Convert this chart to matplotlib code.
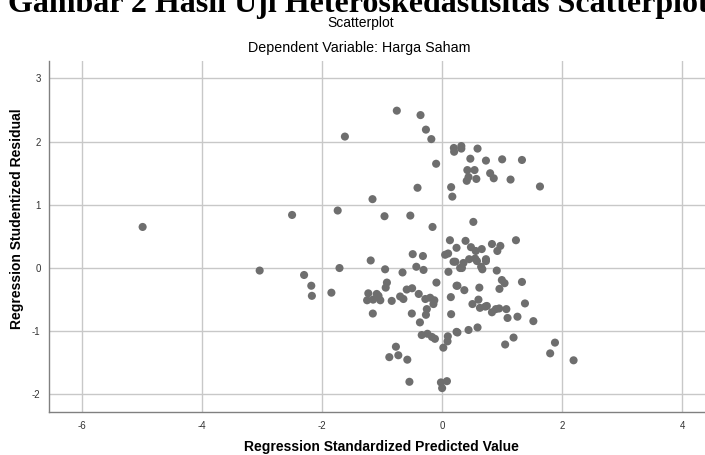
import matplotlib.pyplot as plt

# regression standardized predicted value vs studentized residual
pred = [-4.99, -3.04, -2.50, -2.30, -2.18, -2.17, -1.845, -1.74, -1.71, -1.62,
        -1.25, -1.23, -1.19, -1.16, -1.155, -1.15, -1.09, -1.06, -1.03, -0.96,
        -0.95, -0.94, -0.92, -0.88, -0.84, -0.77, -0.755, -0.73, -0.70, -0.66,
        -0.645, -0.59, -0.58, -0.545, -0.53, -0.505, -0.50, -0.49, -0.43, -0.41,
        -0.39, -0.37, -0.36, -0.34, -0.32, -0.31, -0.28, -0.27, -0.27, -0.255,
        -0.245, -0.20, -0.18, -0.17, -0.16, -0.145, -0.13, -0.12, -0.10, -0.095,
        -0.02, 0.00, 0.02, 0.05, 0.08, 0.09, 0.095, 0.10, 0.105, 0.13,
        0.145, 0.15, 0.15, 0.17, 0.19, 0.195, 0.20, 0.22, 0.24, 0.24,
        0.24, 0.255, 0.255, 0.30, 0.32, 0.32, 0.33, 0.355, 0.37, 0.39,
        0.41, 0.42, 0.44, 0.44, 0.45, 0.47, 0.48, 0.505, 0.52, 0.54,
        0.55, 0.56, 0.57, 0.58, 0.59, 0.59, 0.605, 0.62, 0.63, 0.65,
        0.66, 0.67, 0.72, 0.73, 0.73, 0.73, 0.745, 0.80, 0.83, 0.83,
        0.86, 0.895, 0.91, 0.92, 0.95, 0.955, 0.97, 0.995, 1.00, 1.04,
        1.05, 1.07, 1.09, 1.14, 1.19, 1.23, 1.255, 1.33, 1.33, 1.38,
        1.52, 1.63, 1.80, 1.88, 2.19]
resid = [0.65, -0.04, 0.84, -0.11, -0.28, -0.44, -0.39, 0.91, 0.00, 2.08,
         -0.51, -0.40, 0.12, 1.09, -0.72, -0.50, -0.41, -0.44, -0.51, 0.82,
         -0.02, -0.31, -0.23, -1.41, -0.52, -1.245, 2.49, -1.38, -0.45, -0.07,
         -0.49, -0.34, -1.45, -1.80, 0.83, -0.72, -0.32, 0.22, 0.02, 1.27,
         -0.41, -0.86, 2.42, -1.06, 0.19, -0.03, -0.49, 2.19, -0.74, -0.65,
         -1.04, -0.47, 2.04, -1.09, 0.65, -0.57, -0.51, -1.12, 1.65, -0.23,
         -1.81, -1.90, -1.26, 0.21, -1.79, -1.16, -1.08, 0.23, -0.06, 0.44,
         -0.46, -0.73, 1.28, 1.13, 0.10, 1.90, 1.84, 0.10, 0.32, -0.28,
         -1.01, -1.02, -0.28, 0.00, 1.93, 1.89, 0.00, 0.08, -0.35, 0.43,
         1.38, 1.55, 1.44, -0.98, 0.14, 1.73, 0.33, -0.57, 0.73, 1.55,
         0.15, 0.27, 1.41, 0.11, 1.89, -0.94, -0.50, -0.31, -0.63, 0.02,
         0.30, -0.02, -0.61, 1.70, 0.14, 0.11, -0.60, 1.50, 0.38, -0.70,
         1.42, -0.65, -0.04, 0.27, -0.64, -0.33, 0.35, -0.19, 1.72, -0.24,
         -1.21, -0.65, -0.79, 1.40, -1.10, 0.44, -0.77, 1.71, -0.22, -0.56,
         -0.84, 1.29, -1.35, -1.18, -1.46]

xticks = [-6, -4, -2, 0, 2, 4]
yticks = [-2, -1, 0, 1, 2, 3]

plt.rcParams['font.family'] = ['Liberation Sans', 'DejaVu Sans']

fig = plt.figure(figsize=(7.05, 4.55), dpi=100)
ax = fig.add_axes([0.0695, 0.0938, 0.945, 0.772])

ax.scatter(pred, resid, s=34, color='#6e6e6e', edgecolors='none', zorder=3)

ax.set_xlim(-6.55, 4.55)
ax.set_ylim(-2.283, 3.275)
ax.set_xticks(xticks)
ax.set_yticks(yticks)
ax.set_xticklabels([str(t) for t in xticks])
ax.set_yticklabels([str(t) for t in yticks])
ax.tick_params(length=0, labelsize=7, colors='#333333', pad=6)
ax.grid(True, color='#c8c8c8', linewidth=1.0)
ax.set_axisbelow(True)
for s in ['top', 'right']:
    ax.spines[s].set_visible(False)
for s in ['left', 'bottom']:
    ax.spines[s].set_color('#808080')
    ax.spines[s].set_linewidth(1.0)

# judul dan label
fig.text(0.012, 0.974, 'Gambar 2 Hasil Uji Heteroskedastisitas Scatterplot',
         family=['Liberation Serif'], fontweight='bold', fontsize=23,
         ha='left', va='baseline')
fig.text(0.511, 0.950, 'Scatterplot', fontsize=10, ha='center', va='center')
fig.text(0.51, 0.895, 'Dependent Variable: Harga Saham', fontsize=10.3,
         ha='center', va='center')
fig.text(0.541, 0.018, 'Regression Standardized Predicted Value', fontsize=10,
         fontweight='bold', ha='center', va='center')
fig.text(0.024, 0.52, 'Regression Studentized Residual', fontsize=10,
         fontweight='bold', ha='center', va='center', rotation=90)

fig.savefig('out.png', dpi=100)
